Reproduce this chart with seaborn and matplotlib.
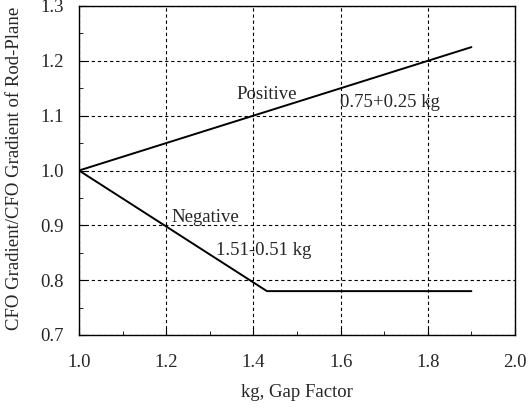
import pandas as pd
import seaborn as sns
import matplotlib.pyplot as plt
from matplotlib.ticker import MultipleLocator

# data
kg_pos = [1.0, 1.9]
ratio_pos = [1.0, 1.225]
kg_neg = [1.0, 1.431, 1.9]
ratio_neg = [1.0, 0.78, 0.78]

df = pd.concat([
    pd.DataFrame({'kg': kg_pos, 'ratio': ratio_pos, 'case': 'Positive'}),
    pd.DataFrame({'kg': kg_neg, 'ratio': ratio_neg, 'case': 'Negative'}),
])

sns.set_style('ticks')
plt.rcParams['font.family'] = ['Liberation Serif', 'DejaVu Serif']
fs = 13.5

fig = plt.figure(figsize=(5.3, 4.08), dpi=100)
ax = fig.add_axes([79 / 530, 1 - 335 / 408, 436 / 530, 329 / 408])

sns.lineplot(data=df, x='kg', y='ratio', units='case', estimator=None,
             color='black', linewidth=1.4, ax=ax, legend=False)

ax.set_xlim(1.0, 2.0)
ax.set_ylim(0.7, 1.3)
ax.xaxis.set_major_locator(MultipleLocator(0.2))
ax.xaxis.set_minor_locator(MultipleLocator(0.1))
ax.yaxis.set_major_locator(MultipleLocator(0.1))
ax.yaxis.set_minor_locator(MultipleLocator(0.05))
ax.xaxis.set_major_formatter(lambda v, p: f'{v:.1f}')
ax.yaxis.set_major_formatter(lambda v, p: f'{v:.1f}')
ax.tick_params(which='both', direction='in', labelsize=fs, color='black')
ax.tick_params(which='major', length=5)
ax.tick_params(which='minor', length=3)
ax.tick_params(axis='x', which='major', pad=14)
ax.tick_params(axis='y', which='major', pad=11)
ax.grid(True, which='major', color='black', linestyle=(0, (3, 2.5)), linewidth=0.8)
for s in ax.spines.values():
    s.set_color('black')
    s.set_linewidth(1.0)

ax.set_xlabel('kg, Gap Factor', fontsize=fs, va='center')
ax.set_ylabel('CFO Gradient/CFO Gradient of Rod-Plane', fontsize=fs, va='center')
ax.xaxis.set_label_coords(0.5, -0.176)
ax.yaxis.set_label_coords(-0.149, 0.505)

ax.text(1.362, 1.130, 'Positive', fontsize=fs)
ax.text(1.599, 1.116, '0.75+0.25 kg', fontsize=fs)
ax.text(1.213, 0.906, 'Negative', fontsize=fs)
ax.text(1.314, 0.846, '1.51-0.51 kg', fontsize=fs)

fig.savefig('out.png', dpi=100)
